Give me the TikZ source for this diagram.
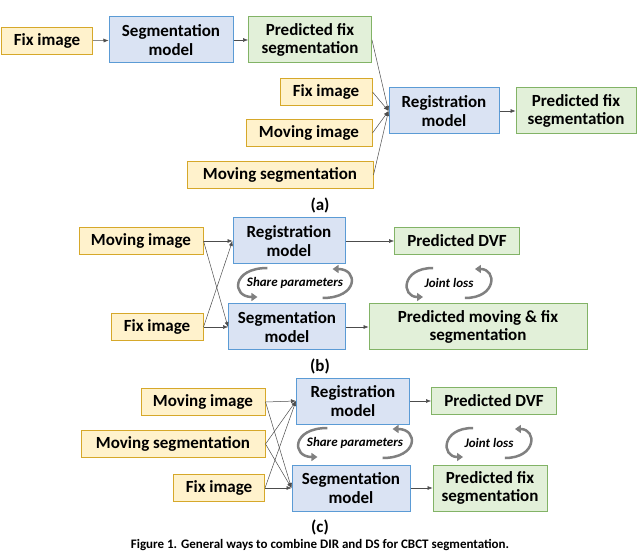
\documentclass[tikz,border=0pt]{standalone}
\usepackage{fontspec}
\setmainfont{Carlito}
\usetikzlibrary{arrows.meta}
\definecolor{inpfill}{HTML}{FFF2CC}\definecolor{inpdraw}{HTML}{D6A82A}
\definecolor{modfill}{HTML}{DAE3F3}\definecolor{moddraw}{HTML}{5B9BD5}
\definecolor{outfill}{HTML}{E2F0D9}\definecolor{outdraw}{HTML}{82B366}
\begin{document}
\begin{tikzpicture}[x=1pt,y=-1pt,
	txt/.style = {inner sep=0pt, align=center, font=\fontsize{17}{18.5}\selectfont\bfseries},
	box/.style = {txt, draw, line width=1pt},
	inp/.style = {box, fill=inpfill, draw=inpdraw, minimum height=27pt},
	model/.style = {box, fill=modfill, draw=moddraw, minimum height=46pt},
	outp/.style = {box, fill=outfill, draw=outdraw, minimum height=46pt},
	link/.style = {-{Latex[length=5pt,width=4pt]}, draw=black!70, line width=0.5pt},
	turn/.style = {draw=gray, line width=2.5pt, -{Triangle[length=6pt,width=8pt]}},
	lab/.style = {font=\fontsize{13}{14}\selectfont\bfseries\itshape}]
	\useasboundingbox (0,0) rectangle (640,553);
	% (a)
	\node[inp, minimum width=91pt] (fa) at (47,41) {Fix image};
	\node[model, minimum width=124pt] (sa) at (171,40) {Segmentation\\model};
	\node[outp, minimum width=123pt] (pa) at (310,40) {Predicted fix\\segmentation};
	\node[inp, minimum width=92pt] (fa2) at (326,92) {Fix image};
	\node[inp, minimum width=126pt] (ma) at (309,133) {Moving image};
	\node[inp, minimum width=186pt] (msa) at (280,175) {Moving segmentation};
	\node[model, minimum width=110pt] (ra) at (444,111) {Registration\\model};
	\node[outp, minimum width=120pt] (oa) at (576,111) {Predicted fix\\segmentation};
	\node[txt] (la) at (320,205) {(a)};
	\draw[link] (fa) to (sa);
	\draw[link] (sa) to (pa);
	\draw[link] (pa.east) to (ra.west);
	\draw[link] (fa2.east) to (ra.west);
	\draw[link] (ma.east) to (ra.west);
	\draw[link] (msa.east) to (ra.west);
	\draw[link] (ra) to (oa);
	% (b)
	\node[inp, minimum width=124pt] (mb) at (141,241) {Moving image};
	\node[inp, minimum width=92pt] (fb) at (157,327) {Fix image};
	\node[model, minimum width=112pt] (rb) at (289,241) {Registration\\model};
	\node[model, minimum width=117pt] (sb) at (287,327) {Segmentation\\model};
	\node[outp, minimum width=125pt, minimum height=27pt] (db) at (457,241) {Predicted DVF};
	\node[outp, minimum width=218pt] (pb) at (478,327) {Predicted moving \& fix\\segmentation};
	\node[lab] (shb) at (295,283) {Share parameters};
	\node[lab] (jb) at (449,283) {Joint loss};
	\node[txt] (lb) at (320,366) {(b)};
	\draw[link] (mb.east) to (rb.west);
	\draw[link] (mb.east) to (sb.west);
	\draw[link] (fb.east) to (rb.west);
	\draw[link] (fb.east) to (sb.west);
	\draw[link] (rb) to (db);
	\draw[link] (sb) to (pb);
	\draw[turn] ([shift={(24,-15)}]shb.west) .. controls ([shift={(-12,-15)}]shb.west) and ([shift={(-12,14)}]shb.west) .. ([shift={(14,14)}]shb.west);
	\draw[turn] ([shift={(-24,15)}]shb.east) .. controls ([shift={(12,15)}]shb.east) and ([shift={(12,-14)}]shb.east) .. ([shift={(-14,-14)}]shb.east);
	\draw[turn] ([shift={(12,-15)}]jb.west) .. controls ([shift={(-20,-15)}]jb.west) and ([shift={(-20,14)}]jb.west) .. ([shift={(2,14)}]jb.west);
	\draw[turn] ([shift={(-12,15)}]jb.east) .. controls ([shift={(20,15)}]jb.east) and ([shift={(20,-14)}]jb.east) .. ([shift={(-2,-14)}]jb.east);
	% (c)
	\node[inp, minimum width=124pt] (mc) at (203,402) {Moving image};
	\node[inp, minimum width=184pt] (msc) at (173,444) {Moving segmentation};
	\node[inp, minimum width=91pt] (fc) at (219,488) {Fix image};
	\node[model, minimum width=113pt] (rc) at (353,401) {Registration\\model};
	\node[model, minimum width=118pt] (sc) at (351,488) {Segmentation\\model};
	\node[outp, minimum width=125pt, minimum height=27pt] (dc) at (494,401) {Predicted DVF};
	\node[outp, minimum width=114pt] (pc) at (490,488) {Predicted fix\\segmentation};
	\node[lab] (shc) at (355,443) {Share parameters};
	\node[lab] (jc) at (489,443) {Joint loss};
	\node[txt] (lc) at (320,527) {(c)};
	\foreach \s in {mc,msc,fc} {
		\draw[link] (\s.east) to (rc.west);
		\draw[link] (\s.east) to (sc.west);
	}
	\draw[link] (rc) to (dc);
	\draw[link] (sc) to (pc);
	\draw[turn] ([shift={(24,-15)}]shc.west) .. controls ([shift={(-12,-15)}]shc.west) and ([shift={(-12,14)}]shc.west) .. ([shift={(14,14)}]shc.west);
	\draw[turn] ([shift={(-24,15)}]shc.east) .. controls ([shift={(12,15)}]shc.east) and ([shift={(12,-14)}]shc.east) .. ([shift={(-14,-14)}]shc.east);
	\draw[turn] ([shift={(12,-15)}]jc.west) .. controls ([shift={(-20,-15)}]jc.west) and ([shift={(-20,14)}]jc.west) .. ([shift={(2,14)}]jc.west);
	\draw[turn] ([shift={(-12,15)}]jc.east) .. controls ([shift={(20,15)}]jc.east) and ([shift={(20,-14)}]jc.east) .. ([shift={(-2,-14)}]jc.east);
	\node[font=\fontsize{13}{14}\selectfont\bfseries] (cap) at (320,545) {Figure 1. General ways to combine DIR and DS for CBCT segmentation.};
\end{tikzpicture}
\end{document}
